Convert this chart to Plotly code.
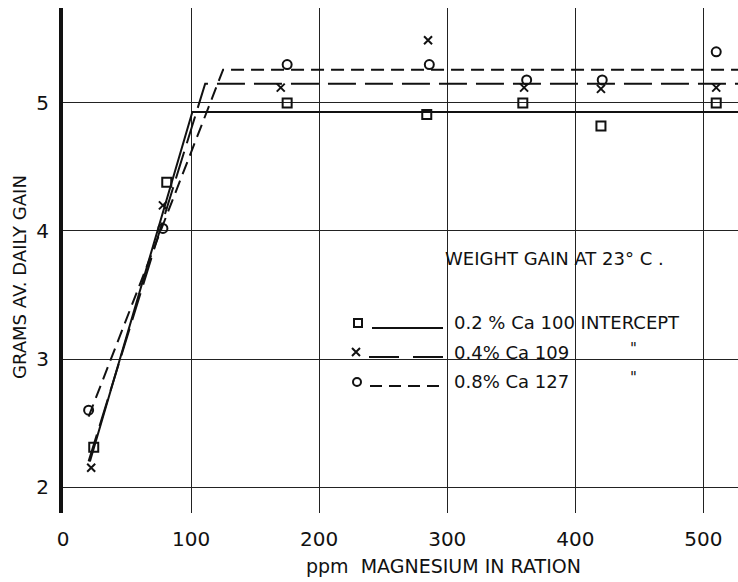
import plotly.graph_objects as go

# Data
mg_sq = [24, 81, 175, 284, 359, 420, 510]
gain_sq = [2.31, 4.38, 5.00, 4.91, 5.00, 4.82, 5.00]
mg_x = [22, 78, 170, 285, 360, 420, 510]
gain_x = [2.15, 4.20, 5.12, 5.49, 5.12, 5.11, 5.12]
mg_o = [20, 78, 175, 286, 362, 421, 510]
gain_o = [2.60, 4.02, 5.30, 5.30, 5.18, 5.18, 5.40]

fit_02_x = [21, 101, 540]
fit_02_y = [2.20, 4.93, 4.93]
fit_04_x = [20, 111, 540]
fit_04_y = [2.20, 5.15, 5.15]
fit_08_x = [20, 125, 540]
fit_08_y = [2.55, 5.26, 5.26]

x_ticks = [0, 100, 200, 300, 400, 500]
y_ticks = [2, 3, 4, 5]

x_title = "ppm  MAGNESIUM IN RATION"
y_title = "GRAMS AV. DAILY GAIN"
legend_title = "WEIGHT GAIN AT 23° C ."
legend_rows = ["0.2 % Ca 100 INTERCEPT", "0.4% Ca 109", "0.8% Ca 127"]

FONT = "DejaVu Sans"
INK = "#111111"

fig = go.Figure()
fig.add_trace(go.Scatter(x=fit_02_x, y=fit_02_y, mode="lines",
                         line=dict(color=INK, width=2), showlegend=False))
fig.add_trace(go.Scatter(x=fit_04_x, y=fit_04_y, mode="lines",
                         line=dict(color=INK, width=2, dash="28px,9px"), showlegend=False))
fig.add_trace(go.Scatter(x=fit_08_x, y=fit_08_y, mode="lines",
                         line=dict(color=INK, width=2, dash="13px,7px"), showlegend=False))
fig.add_trace(go.Scatter(x=mg_sq, y=gain_sq, mode="markers",
                         marker=dict(symbol="square-open", size=9, color=INK, line=dict(width=2)),
                         showlegend=False))
fig.add_trace(go.Scatter(x=mg_x, y=gain_x, mode="markers",
                         marker=dict(symbol="x-thin-open", size=8, color=INK, line=dict(width=2, color=INK)),
                         showlegend=False))
fig.add_trace(go.Scatter(x=mg_o, y=gain_o, mode="markers",
                         marker=dict(symbol="circle-open", size=9, color=INK, line=dict(width=2)),
                         showlegend=False))

# Pixel -> paper helpers for the in-plot legend and titles
W, H = 738, 582
L, T, B = 63, 8, 69
pw, ph = W - L, H - T - B

def px(xp):
    return (xp - L) / pw

def py(yp):
    return 1 - (yp - T) / ph

fig.add_annotation(x=px(443), y=py(258), xref="paper", yref="paper", text=legend_title,
                   showarrow=False, xanchor="left", yanchor="middle",
                   font=dict(family=FONT, size=18, color=INK))
row_y = [322, 352, 381]
symbols = ["square-open", "x-thin-open", "circle-open"]
for i, (label, yy) in enumerate(zip(legend_rows, row_y)):
    fig.add_annotation(x=px(452), y=py(yy), xref="paper", yref="paper", text=label,
                       showarrow=False, xanchor="left", yanchor="middle",
                       font=dict(family=FONT, size=18, color=INK))
    if i > 0:
        fig.add_annotation(x=px(633), y=py(yy - 3), xref="paper", yref="paper", text="\"",
                           showarrow=False, xanchor="center", yanchor="middle",
                           font=dict(family=FONT, size=15, color=INK))

fig.add_shape(type="line", xref="paper", yref="paper", x0=px(372), x1=px(443),
              y0=py(328), y1=py(328), line=dict(color=INK, width=2))
fig.add_shape(type="line", xref="paper", yref="paper", x0=px(369), x1=px(443),
              y0=py(357), y1=py(357), line=dict(color=INK, width=2, dash="30px,14px"))
fig.add_shape(type="line", xref="paper", yref="paper", x0=px(370), x1=px(443),
              y0=py(386), y1=py(386), line=dict(color=INK, width=2, dash="12px,7px"))
fig.add_trace(go.Scatter(x=[px(358), px(356), px(357)], y=[py(323), py(352), py(382)],
                         xaxis="x2", yaxis="y2", mode="markers",
                         marker=dict(symbol=symbols, size=8, color=INK, line=dict(width=2, color=INK)),
                         showlegend=False, hoverinfo="skip"))

# Axis titles
fig.add_annotation(x=px(443), y=py(566), xref="paper", yref="paper", text=x_title,
                   showarrow=False, xanchor="center", yanchor="middle",
                   font=dict(family=FONT, size=19, color=INK))
fig.add_annotation(x=px(19), y=py(277), xref="paper", yref="paper", text=y_title,
                   showarrow=False, xanchor="center", yanchor="middle", textangle=-90,
                   font=dict(family=FONT, size=18, color=INK))

fig.update_layout(
    width=W, height=H,
    margin=dict(l=L, r=0, t=T, b=B),
    paper_bgcolor="white", plot_bgcolor="white",
    font=dict(family=FONT, color=INK),
    xaxis=dict(range=[0, 527], tickvals=x_ticks, ticktext=[str(v) for v in x_ticks],
               showgrid=True, gridcolor="#222222", gridwidth=1, zeroline=False,
               showline=False, ticks="", tickfont=dict(size=20, color=INK),
               ticklabelstandoff=12),
    yaxis=dict(range=[1.797, 5.742], tickvals=y_ticks, ticktext=[str(v) for v in y_ticks],
               showgrid=True, gridcolor="#222222", gridwidth=1, zeroline=False,
               showline=True, linecolor=INK, linewidth=4, ticks="",
               tickfont=dict(size=20, color=INK), ticklabelstandoff=6),
    xaxis2=dict(range=[0, 1], overlaying="x", visible=False),
    yaxis2=dict(range=[0, 1], overlaying="y", visible=False),
)

fig.write_html("out.html")
